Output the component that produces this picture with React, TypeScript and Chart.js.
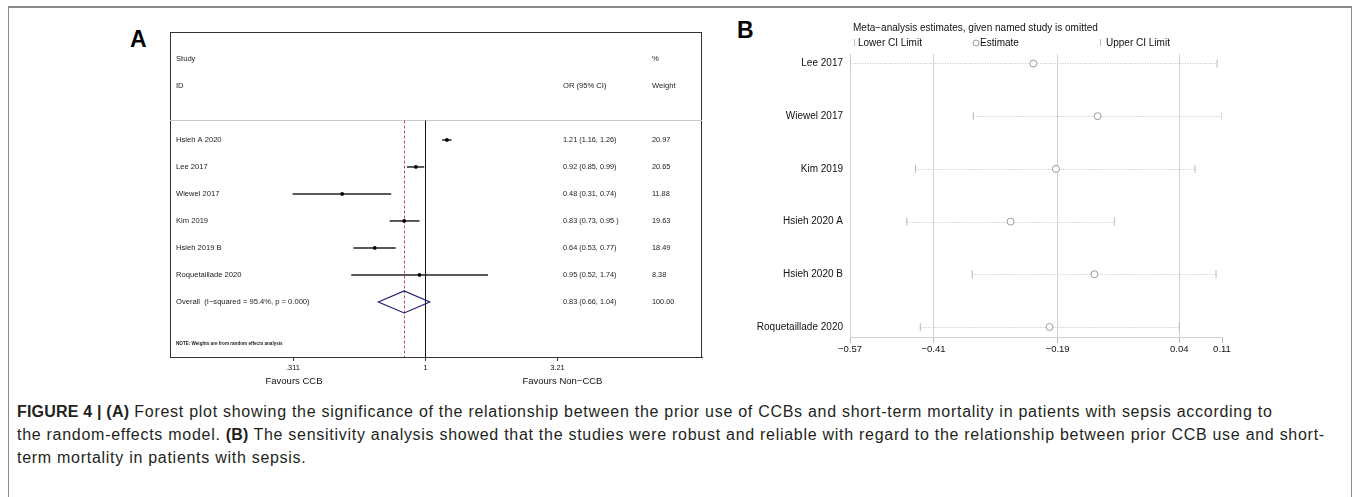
import React, { useEffect, useRef } from "react";
import { Chart, registerables } from "chart.js";
Chart.register(...registerables);

const FONT = '"Liberation Sans", Arial, sans-serif';
Chart.defaults.font.family = FONT;

// ---------- Panel A data (forest plot) ----------
const studiesA = ["Hsieh A 2020", "Lee 2017", "Wiewel 2017", "Kim 2019", "Hsieh 2019 B", "Roquetaillade 2020"];
const orA = [1.21, 0.92, 0.48, 0.83, 0.64, 0.95];
const lowA = [1.16, 0.85, 0.31, 0.73, 0.53, 0.52];
const highA = [1.26, 0.99, 0.74, 0.95, 0.77, 1.74];
const ciTextA = ["1.21 (1.16, 1.26)", "0.92 (0.85, 0.99)", "0.48 (0.31, 0.74)", "0.83 (0.73, 0.95 )", "0.64 (0.53, 0.77)", "0.95 (0.52, 1.74)"];
const weightA = ["20.97", "20.65", "11.88", "19.63", "18.49", "8.38"];
const overallOR = 0.83;
const overallLow = 0.66;
const overallHigh = 1.04;
const overallLabel = "Overall  (I\u2212squared = 95.4%, p = 0.000)";
const overallCIText = "0.83 (0.66, 1.04)";
const overallWeight = "100.00";
const ticksA = [0.311, 1, 3.21];
const tickLabelsA = [".311", "1", "3.21"];

// ---------- Panel B data (sensitivity analysis) ----------
const studiesB = ["Lee 2017", "Wiewel 2017", "Kim 2019", "Hsieh 2020 A", "Hsieh 2020 B", "Roquetaillade 2020"];
const estB = [-0.231, -0.112, -0.189, -0.273, -0.118, -0.201];
const lowB = [-0.57, -0.342, -0.449, -0.465, -0.344, -0.44];
const highB = [0.109, 0.118, 0.068, -0.081, 0.107, 0.039];
const ticksB = [-0.57, -0.4155, -0.186, 0.039, 0.118];
const tickLabelsB = ["\u22120.57", "\u22120.41", "\u22120.19", "0.04", "0.11"];

function line(ctx: CanvasRenderingContext2D, x1: number, y1: number, x2: number, y2: number) {
  ctx.beginPath();
  ctx.moveTo(x1, y1);
  ctx.lineTo(x2, y2);
  ctx.stroke();
}

function PanelA() {
  const ref = useRef<HTMLCanvasElement>(null);
  useEffect(() => {
    const firstRow = 4;
    const overallRow = 10;
    const plugin = {
      id: "forestA",
      beforeDatasetsDraw(chart: any) {
        const { ctx, chartArea: a, scales } = chart;
        const xs = scales.x, ys = scales.y;
        ctx.save();
        ctx.strokeStyle = "#333";
        ctx.lineWidth = 1;
        ctx.strokeRect(Math.round(a.left) + 0.5, Math.round(a.top) + 0.5, Math.round(a.width) - 1, Math.round(a.height));
        const sepY = Math.round(ys.getPixelForValue(3.26)) + 0.5;
        ctx.strokeStyle = "#c8c8c8";
        line(ctx, a.left, sepY, a.right, sepY);
        // null line
        const x1 = Math.round(xs.getPixelForValue(1)) + 0.5;
        ctx.strokeStyle = "#111";
        line(ctx, x1, sepY, x1, a.bottom);
        // overall dashed line
        const xo = Math.round(xs.getPixelForValue(overallOR)) + 0.5;
        ctx.strokeStyle = "#c0504d";
        ctx.setLineDash([3, 2]);
        line(ctx, xo, sepY, xo, a.bottom);
        ctx.setLineDash([]);
        // CI lines
        ctx.strokeStyle = "#222";
        ctx.lineWidth = 1.5;
        studiesA.forEach((_, i) => {
          const y = ys.getPixelForValue(firstRow + i);
          line(ctx, xs.getPixelForValue(lowA[i]), y, xs.getPixelForValue(highA[i]), y);
        });
        // overall diamond
        const yc = ys.getPixelForValue(overallRow);
        const h = 11;
        ctx.strokeStyle = "#1c1c78";
        ctx.lineWidth = 1.2;
        ctx.beginPath();
        ctx.moveTo(xs.getPixelForValue(overallLow), yc);
        ctx.lineTo(xs.getPixelForValue(overallOR), yc - h);
        ctx.lineTo(xs.getPixelForValue(overallHigh), yc);
        ctx.lineTo(xs.getPixelForValue(overallOR), yc + h);
        ctx.closePath();
        ctx.stroke();
        ctx.restore();
      },
      afterDraw(chart: any) {
        const { ctx, chartArea: a, scales } = chart;
        const xs = scales.x, ys = scales.y;
        ctx.save();
        ctx.fillStyle = "#1a1a1a";
        ctx.textBaseline = "middle";
        ctx.textAlign = "left";
        const colStudy = a.left + 6;
        const colOR = a.left + 393;
        const colW = a.left + 482;
        ctx.font = `7.6px ${FONT}`;
        ctx.fillText("Study", colStudy, ys.getPixelForValue(1));
        ctx.fillText("ID", colStudy, ys.getPixelForValue(2));
        ctx.fillText("%", colW, ys.getPixelForValue(1));
        ctx.fillText("Weight", colW, ys.getPixelForValue(2));
        ctx.fillText("OR (95% CI)", colOR, ys.getPixelForValue(2));
        studiesA.forEach((s, i) => {
          const y = ys.getPixelForValue(firstRow + i);
          ctx.font = `7.6px ${FONT}`;
          ctx.fillText(s, colStudy, y);
          ctx.font = `7.3px ${FONT}`;
          ctx.fillText(ciTextA[i], colOR, y);
          ctx.fillText(weightA[i], colW, y);
        });
        const yo = ys.getPixelForValue(overallRow);
        ctx.font = `7.6px ${FONT}`;
        ctx.fillText(overallLabel, colStudy, yo);
        ctx.font = `7.3px ${FONT}`;
        ctx.fillText(overallCIText, colOR, yo);
        ctx.fillText(overallWeight, colW, yo);
        ctx.font = `bold 4.6px ${FONT}`;
        ctx.fillText("NOTE: Weights are from random effects analysis", colStudy, ys.getPixelForValue(11.55));
        // favours labels
        ctx.textAlign = "center";
        ctx.fillStyle = "#111";
        ctx.font = `9.5px ${FONT}`;
        const yf = a.bottom + 24;
        ctx.fillText("Favours CCB", xs.getPixelForValue(ticksA[0]) + 1, yf);
        ctx.fillText("Favours Non\u2212CCB", xs.getPixelForValue(ticksA[2]) + 5, yf);
        ctx.restore();
      },
    };

    const chart = new Chart(ref.current as HTMLCanvasElement, {
      type: "scatter",
      data: {
        datasets: [
          {
            data: orA.map((v, i) => ({ x: v, y: firstRow + i })),
            pointStyle: "circle",
            pointRadius: 1.9,
            backgroundColor: "#000",
            borderColor: "#000",
            borderWidth: 0,
          },
        ],
      },
      options: {
        responsive: false,
        animation: false,
        layout: { padding: { left: 60, right: 28, top: 12, bottom: 0 } },
        plugins: { legend: { display: false }, tooltip: { enabled: false } },
        scales: {
          x: {
            type: "logarithmic",
            min: 0.105,
            max: 11.5,
            afterBuildTicks: (s: any) => {
              s.ticks = ticksA.map((v) => ({ value: v }));
            },
            afterFit: (s: any) => {
              s.height = 43;
            },
            ticks: {
              autoSkip: false,
              maxRotation: 0,
              padding: 2,
              color: "#111",
              font: { size: 7.5, family: FONT },
              callback: (_v: any, i: number) => tickLabelsA[i],
            },
            grid: { drawOnChartArea: false, drawTicks: true, tickLength: 4, color: "#333" },
            border: { display: true, color: "#333", width: 1 },
          },
          y: { type: "linear", reverse: true, min: 0, max: 12.04, display: false },
        },
      } as any,
      plugins: [plugin],
    });
    return () => chart.destroy();
  }, []);
  return <canvas ref={ref} width={620} height={380} style={{ position: "absolute", left: 110, top: 20 }} />;
}

function PanelB() {
  const ref = useRef<HTMLCanvasElement>(null);
  useEffect(() => {
    const plugin = {
      id: "sensB",
      beforeDatasetsDraw(chart: any) {
        const { ctx, scales } = chart;
        const xs = scales.x, ys = scales.y;
        ctx.save();
        ctx.strokeStyle = "#c4c4c4";
        ctx.lineWidth = 1;
        ctx.setLineDash([1, 1.5]);
        studiesB.forEach((_, i) => {
          const y = Math.round(ys.getPixelForValue(i)) + 0.5;
          line(ctx, xs.getPixelForValue(lowB[i]), y, xs.getPixelForValue(highB[i]), y);
        });
        ctx.restore();
      },
      afterDraw(chart: any) {
        const { ctx } = chart;
        ctx.save();
        ctx.fillStyle = "#111";
        ctx.textBaseline = "middle";
        ctx.textAlign = "left";
        ctx.font = `10px ${FONT}`;
        ctx.fillText("Meta\u2212analysis estimates, given named study is omitted", 113, 13);
        const ly = 28;
        ctx.strokeStyle = "#bbb";
        ctx.lineWidth = 1;
        line(ctx, 114.5, ly - 4, 114.5, ly + 3);
        ctx.fillText("Lower CI Limit", 118, ly);
        ctx.strokeStyle = "#999";
        ctx.beginPath();
        ctx.arc(236, ly, 3, 0, Math.PI * 2);
        ctx.stroke();
        ctx.fillText("Estimate", 240, ly);
        ctx.strokeStyle = "#bbb";
        line(ctx, 360.5, ly - 4, 360.5, ly + 3);
        ctx.fillText("Upper CI Limit", 366, ly);
        ctx.restore();
      },
    };
    const tickStyle = { pointStyle: "line", rotation: 90, pointRadius: 4, borderColor: "#b8b8b8", borderWidth: 1 };
    const chart = new Chart(ref.current as HTMLCanvasElement, {
      type: "scatter",
      data: {
        datasets: [
          { label: "Lower CI Limit", data: lowB.map((v, i) => ({ x: v, y: i })), ...tickStyle },
          { label: "Upper CI Limit", data: highB.map((v, i) => ({ x: v, y: i })), ...tickStyle },
          {
            label: "Estimate",
            data: estB.map((v, i) => ({ x: v, y: i })),
            pointStyle: "circle",
            pointRadius: 3.5,
            borderColor: "#9a9a9a",
            backgroundColor: "#fff",
            borderWidth: 1,
          },
        ],
      },
      options: {
        responsive: false,
        animation: false,
        layout: { padding: { left: 0, right: 18, top: 39, bottom: 0 } },
        plugins: { legend: { display: false }, tooltip: { enabled: false } },
        scales: {
          x: {
            type: "linear",
            min: ticksB[0],
            max: ticksB[ticksB.length - 1],
            afterBuildTicks: (s: any) => {
              s.ticks = ticksB.map((v) => ({ value: v }));
            },
            afterFit: (s: any) => {
              s.height = 23;
            },
            ticks: {
              autoSkip: false,
              maxRotation: 0,
              padding: 1,
              color: "#111",
              font: { size: 9.5, family: FONT },
              callback: (_v: any, i: number) => tickLabelsB[i],
            },
            grid: {
              drawOnChartArea: true,
              drawTicks: true,
              tickLength: 6,
              color: (c: any) => (c.index === ticksB.length - 1 ? "rgba(0,0,0,0)" : "#d4d4d4"),
              tickColor: "#bbb",
            },
            border: { display: true, color: "#d0d0d0", width: 1 },
          },
          y: {
            type: "linear",
            reverse: true,
            min: -0.18,
            max: 5.19,
            afterBuildTicks: (s: any) => {
              s.ticks = studiesB.map((_, i) => ({ value: i }));
            },
            afterFit: (s: any) => {
              s.width = 110;
            },
            ticks: {
              autoSkip: false,
              padding: 7,
              color: "#111",
              font: { size: 10, family: FONT },
              callback: (_v: any, i: number) => studiesB[i],
            },
            grid: { display: false, drawTicks: false },
            border: { display: true, color: "#d0d0d0", width: 1 },
          },
        },
      } as any,
      plugins: [plugin],
    });
    return () => chart.destroy();
  }, []);
  return <canvas ref={ref} width={500} height={345} style={{ position: "absolute", left: 740, top: 15 }} />;
}

export default function App() {
  return (
    <div style={{ position: "absolute", left: 0, top: 0, width: 1356, height: 497, overflow: "hidden", background: "#fff" }}>
      <div
        style={{
          position: "absolute",
          left: 8,
          top: 6,
          width: 1344,
          height: 520,
          borderTop: "2px solid #8a8a8a",
          borderLeft: "1.5px solid #8a8a8a",
          borderRight: "1.5px solid #8a8a8a",
          boxSizing: "border-box",
        }}
      />
      <div style={{ position: "absolute", left: 130, top: 26, font: `bold 23px ${FONT}`, color: "#000" }}>A</div>
      <div style={{ position: "absolute", left: 737, top: 17, font: `bold 23px ${FONT}`, color: "#000" }}>B</div>
      <PanelA />
      <PanelB />
      <div
        style={{
          position: "absolute",
          left: 17,
          top: 400,
          font: `16px ${FONT}`,
          letterSpacing: "0.72px",
          lineHeight: "23px",
          color: "#231f20",
          whiteSpace: "nowrap",
        }}
      >
        <div>
          <b style={{ letterSpacing: "0.2px" }}>FIGURE 4 | (A)</b> Forest plot showing the significance of the relationship between the prior use of CCBs and short-term mortality in patients with sepsis according to
        </div>
        <div>
          the random-effects model. <b style={{ letterSpacing: "0.2px" }}>(B)</b> The sensitivity analysis showed that the studies were robust and reliable with regard to the relationship between prior CCB use and short-
        </div>
        <div>term mortality in patients with sepsis.</div>
      </div>
    </div>
  );
}
